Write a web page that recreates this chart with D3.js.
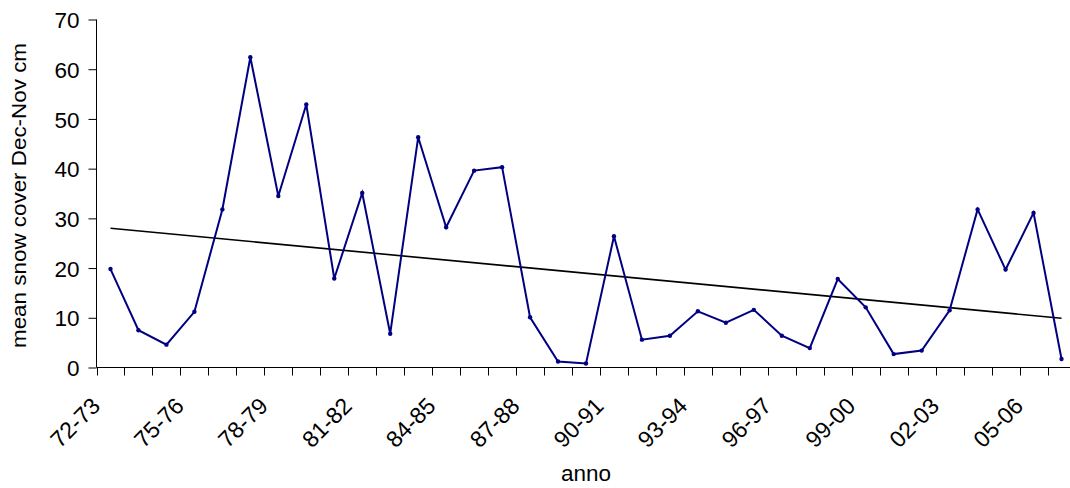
<!DOCTYPE html>
<html>
<head>
<meta charset="utf-8">
<script src="https://cdn.jsdelivr.net/npm/d3@7"></script>
<style>
  html, body { margin: 0; padding: 0; background: #fff; }
  svg { display: block; }
  text { font-family: "Liberation Sans", Arial, sans-serif; fill: #000; }
</style>
</head>
<body>
<script>
// ---- data ----
const seasons = ["72-73","73-74","74-75","75-76","76-77","77-78","78-79","79-80","80-81","81-82",
  "82-83","83-84","84-85","85-86","86-87","87-88","88-89","89-90","90-91","91-92",
  "92-93","93-94","94-95","95-96","96-97","97-98","98-99","99-00","00-01","01-02",
  "02-03","03-04","04-05","05-06","06-07"];
const snowCover = [19.8, 7.5, 4.6, 11.2, 31.8, 62.4, 34.5, 52.9, 17.9, 35.1,
  6.8, 46.3, 28.2, 39.6, 40.3, 10.1, 1.2, 0.8, 26.4, 5.6,
  6.4, 11.3, 9.0, 11.6, 6.4, 3.9, 17.8, 12.1, 2.7, 3.4,
  11.5, 31.8, 19.7, 31.1, 1.7];
const yTicks = [0, 10, 20, 30, 40, 50, 60, 70];
const xLabelEvery = 3;
const yTitle = "mean snow cover Dec-Nov cm";
const xTitle = "anno";

// ---- layout ----
const W = 1070, H = 488;
const svg = d3.select("body").append("svg").attr("width", W).attr("height", H);

const x = d3.scaleBand().domain(seasons).range([96.5, 1075.5]).padding(0);
const y = d3.scaleLinear().domain([0, 70]).range([367.5, 19.5]);
const cx = s => x(s) + x.bandwidth() / 2;

// y axis
const yAxis = svg.append("g").attr("transform", "translate(96.5,0)")
  .call(d3.axisLeft(y).tickValues(yTicks).tickSize(8).tickPadding(9).tickFormat(d3.format("d")));
yAxis.select(".domain").attr("stroke", "#000").attr("d", `M0,${y(70)}V${y(0)}`);
yAxis.selectAll(".tick line").attr("stroke", "#000");
yAxis.selectAll(".tick text").attr("font-size", 22.5).attr("font-family", "Liberation Sans, Arial, sans-serif").attr("dy", "0.36em");

// x axis (ticks at category boundaries)
const bounds = seasons.map(s => x(s)).concat([x.range()[1]]);
const xg = svg.append("g");
xg.append("line").attr("x1", x.range()[0]).attr("x2", x.range()[1])
  .attr("y1", y(0)).attr("y2", y(0)).attr("stroke", "#000");
xg.selectAll("line.tk").data(bounds).join("line").attr("class", "tk")
  .attr("x1", d => Math.round(d) + 0.5).attr("x2", d => Math.round(d) + 0.5)
  .attr("y1", y(0)).attr("y2", y(0) + 8).attr("stroke", "#000");
xg.selectAll("text.lbl").data(seasons.filter((s, i) => i % xLabelEvery === 0)).join("text")
  .attr("class", "lbl")
  .attr("text-anchor", "end")
  .attr("font-size", 23)
  .attr("transform", d => `translate(${cx(d) - 9},${y(0) + 40}) rotate(-45)`)
  .text(d => d);

// trendline (least squares on data)
const n = snowCover.length;
const idx = d3.range(1, n + 1);
const mx = d3.mean(idx), my = d3.mean(snowCover);
const slope = d3.sum(idx.map((t, i) => (t - mx) * (snowCover[i] - my))) / d3.sum(idx.map(t => (t - mx) ** 2));
const icpt = my - slope * mx;
svg.append("line")
  .attr("x1", cx(seasons[0])).attr("y1", y(icpt + slope * 1))
  .attr("x2", cx(seasons[n - 1])).attr("y2", y(icpt + slope * n))
  .attr("stroke", "#000").attr("stroke-width", 1.6);

// data line
const line = d3.line().x((d, i) => cx(seasons[i])).y(d => y(d));
svg.append("path").datum(snowCover).attr("d", line)
  .attr("fill", "none").attr("stroke", "#000080").attr("stroke-width", 2);
svg.selectAll("circle.pt").data(snowCover).join("circle").attr("class", "pt")
  .attr("cx", (d, i) => cx(seasons[i])).attr("cy", d => y(d)).attr("r", 2.2)
  .attr("fill", "#000080");

// titles
svg.append("text").attr("text-anchor", "middle").attr("font-size", 22.5)
  .attr("x", 586).attr("y", 481).text(xTitle);
svg.append("text").attr("text-anchor", "middle").attr("font-size", 20)
  .attr("transform", "translate(26,195.5) rotate(-90)")
  .attr("textLength", 305).attr("lengthAdjust", "spacingAndGlyphs")
  .text(yTitle);
</script>
</body>
</html>
